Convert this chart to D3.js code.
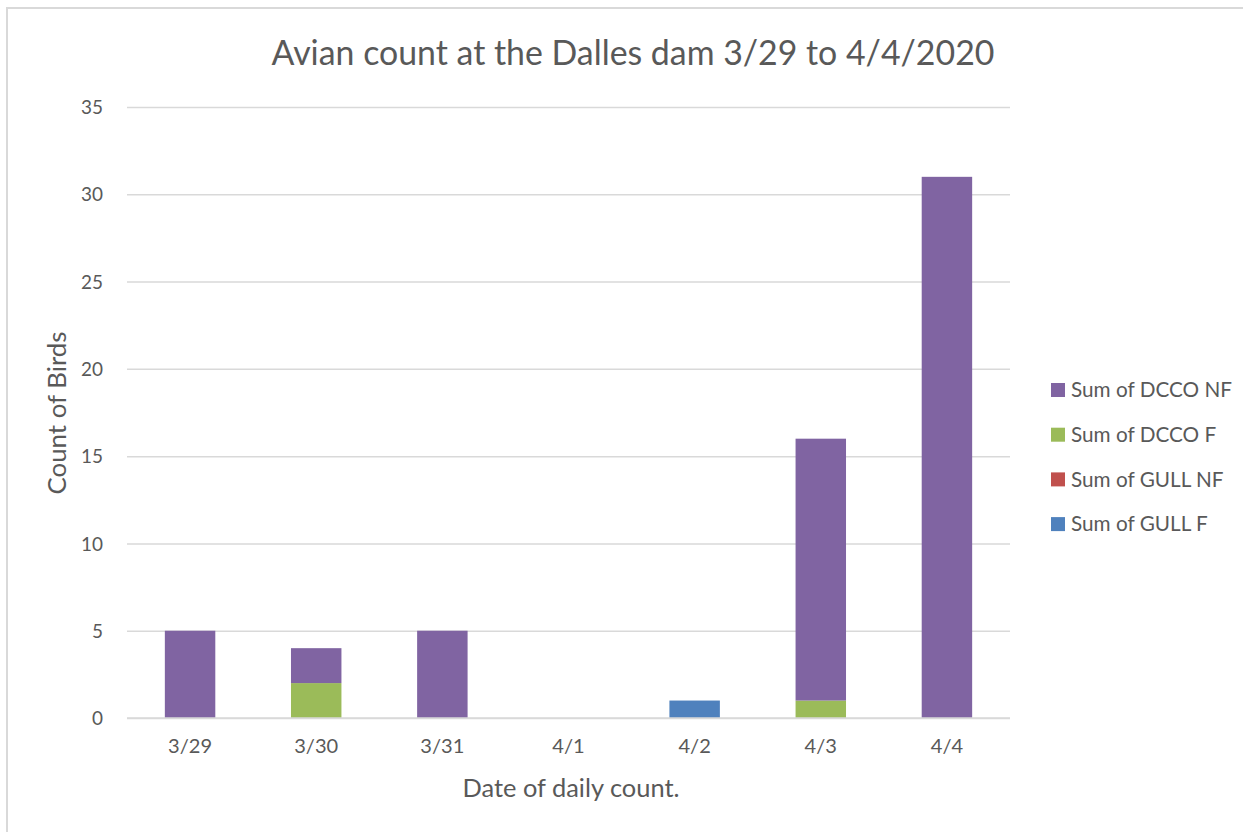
<!DOCTYPE html>
<html>
<head>
<meta charset="utf-8">
<script src="https://cdn.jsdelivr.net/npm/d3@7"></script>
<style>
  html, body { margin: 0; padding: 0; background: #fff; }
  svg { display: block; }
  text { font-family: Lato, "Open Sans", sans-serif; fill: #595959; }
</style>
</head>
<body>
<svg id="chart" width="1243" height="832"></svg>
<script>
// ---- data ----
const categories = ["3/29", "3/30", "3/31", "4/1", "4/2", "4/3", "4/4"];
const seriesNames = ["Sum of GULL F", "Sum of GULL NF", "Sum of DCCO F", "Sum of DCCO NF"]; // stacking order (bottom -> top)
const gullF  = [0, 0, 0, 0, 1, 0, 0];
const gullNF = [0, 0, 0, 0, 0, 0, 0];
const dccoF  = [0, 2, 0, 0, 0, 1, 0];
const dccoNF = [5, 2, 5, 0, 0, 15, 31];
const yTicks = [0, 5, 10, 15, 20, 25, 30, 35];
const legendOrder = ["Sum of DCCO NF", "Sum of DCCO F", "Sum of GULL NF", "Sum of GULL F"];
const colors = {
  "Sum of DCCO NF": "#8064a2",
  "Sum of DCCO F": "#9bbb59",
  "Sum of GULL NF": "#c0504d",
  "Sum of GULL F": "#4f81bd"
};
const titleText = "Avian count at the Dalles dam 3/29 to 4/4/2020";
const xTitle = "Date of daily count.";
const yTitle = "Count of Birds";

// ---- build table ----
const valuesBySeries = {
  "Sum of GULL F": gullF, "Sum of GULL NF": gullNF,
  "Sum of DCCO F": dccoF, "Sum of DCCO NF": dccoNF
};
const table = categories.map((c, i) => {
  const row = { cat: c };
  seriesNames.forEach(s => row[s] = valuesBySeries[s][i]);
  return row;
});
const stacked = d3.stack().keys(seriesNames)(table);

const svg = d3.select("#chart");

// chart border (top + left visible)
svg.append("path")
  .attr("d", "M7,832 V8 H1243")
  .attr("fill", "none").attr("stroke", "#d9d9d9").attr("stroke-width", 2);

const plot = { left: 127, right: 1010, top: 107, bottom: 718 };

const x = d3.scaleBand().domain(categories)
  .range([plot.left, plot.right]).paddingInner(0.6).paddingOuter(0.3);
const y = d3.scaleLinear().domain([0, 35]).range([plot.bottom, plot.top]);

// font size that makes a text node reach a target width
function fitSize(node, base, target) {
  node.style.fontSize = base + "px";
  const w = node.getComputedTextLength();
  return (base * target / w).toFixed(2) + "px";
}
function fit(sel, base, target) {
  sel.style("font-size", fitSize(sel.node(), base, target));
  return sel;
}

// gridlines via axis
const yAxis = d3.axisLeft(y).tickValues(yTicks)
  .tickSize(-(plot.right - plot.left)).tickPadding(24).tickFormat(d3.format("d"));
const gy = svg.append("g").attr("transform", `translate(${plot.left},0)`).call(yAxis);
gy.attr("font-size", null).attr("font-family", null);
gy.select(".domain").remove();
gy.selectAll(".tick line").attr("stroke", "#d9d9d9").attr("stroke-width", 1.5);
const yTickTexts = gy.selectAll(".tick text").attr("fill", "#595959").attr("dy", "0.35em");
const y35 = yTickTexts.filter(d => d === 35).node();
const ySize = fitSize(y35, 16, 22);
yTickTexts.style("font-size", ySize);

// bars
svg.append("g").selectAll("g").data(stacked).join("g")
  .attr("fill", d => colors[d.key])
  .selectAll("rect").data(d => d).join("rect")
  .attr("x", d => x(d.data.cat))
  .attr("width", x.bandwidth())
  .attr("y", d => y(d[1]))
  .attr("height", d => y(d[0]) - y(d[1]));

// x axis
const gx = svg.append("g").attr("transform", `translate(0,${plot.bottom})`)
  .call(d3.axisBottom(x).tickSize(0).tickPadding(21));
gx.attr("font-size", null).attr("font-family", null);
gx.select(".domain").remove();
const xTickTexts = gx.selectAll(".tick text").attr("fill", "#595959").attr("dy", "0.71em");
const xSize = fitSize(xTickTexts.filter(d => d === "3/29").node(), 16, 44);
xTickTexts.style("font-size", xSize);
// baseline axis line
svg.append("line").attr("x1", plot.left).attr("x2", plot.right)
  .attr("y1", y(0)).attr("y2", y(0)).attr("stroke", "#d9d9d9").attr("stroke-width", 1.5);

// title
const t = svg.append("text").attr("x", 633).attr("y", 53).attr("dy", "0.35em")
  .attr("text-anchor", "middle").text(titleText);
fit(t, 30, 723);

// axis titles
const xt = svg.append("text").attr("x", 571).attr("y", 788).attr("dy", "0.35em")
  .attr("text-anchor", "middle").text(xTitle);
fit(xt, 20, 217);
const yt = svg.append("text").attr("transform", "translate(57,413) rotate(-90)")
  .attr("dy", "0.35em").attr("text-anchor", "middle").text(yTitle);
fit(yt, 20, 163);

// legend
const lg = svg.append("g").selectAll("g").data(legendOrder).join("g")
  .attr("transform", (d, i) => `translate(1051,${390 + i * 44.7})`);
lg.append("rect").attr("x", 0).attr("y", -7).attr("width", 14).attr("height", 14)
  .attr("fill", d => colors[d]);
lg.append("text").attr("x", 20).attr("y", 0).attr("dy", "0.35em").text(d => d)
  .style("font-size", "18px");
const lSize = fitSize(lg.select("text").node(), 18, 161);
lg.selectAll("text").style("font-size", lSize);
</script>
</body>
</html>
